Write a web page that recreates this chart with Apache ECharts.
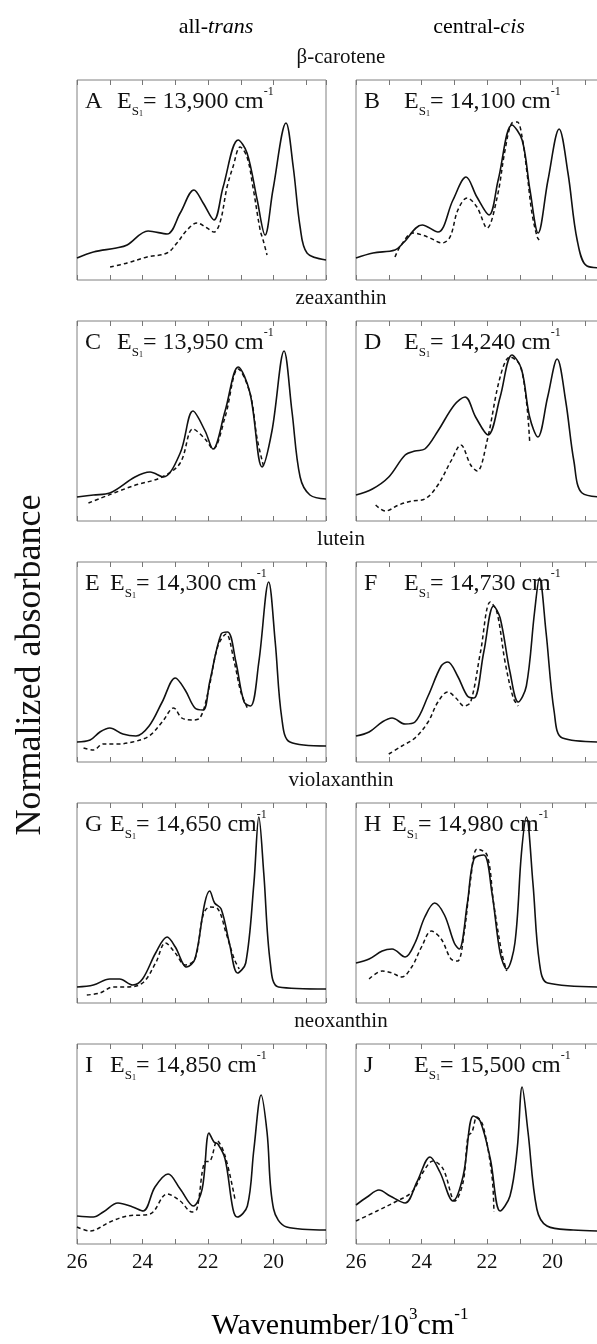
<!DOCTYPE html>
<html>
<head>
<meta charset="utf-8">
<script src="https://cdn.jsdelivr.net/npm/echarts@6/dist/echarts.min.js"></script>
<style>
  html, body { margin: 0; padding: 0; background: #fff; }
  #chart { width: 597px; height: 1344px; }
</style>
</head>
<body>
<div id="chart"></div>
<script>
// column / row titles
var colTitles = [['all-', 'trans'], ['central-', 'cis']];
var moleculeNames = ['\u03b2-carotene', 'zeaxanthin', 'lutein', 'violaxanthin', 'neoxanthin'];
var panelLetters = ['A', 'B', 'C', 'D', 'E', 'F', 'G', 'H', 'I', 'J'];
var esValues = ['13,900', '14,100', '13,950', '14,240', '14,300', '14,730', '14,650', '14,980', '14,850', '15,500'];
var tickLabels = [20, 22, 24, 26];

// spectra: [wavenumber (10^3 cm-1), normalized absorbance]
var aSolid = [[26,0.11],[25.5,0.14],[24.8,0.16],[24.47,0.175],[23.83,0.245],[23.25,0.23],[22.85,0.335],[22.43,0.45],[22.15,0.385],[21.82,0.30],[21.54,0.465],[21.08,0.70],[20.81,0.635],[20.5,0.40],[20.26,0.225],[20.02,0.45],[19.62,0.785],[19.4,0.565],[19.19,0.265],[18.98,0.135],[18.4,0.10]];
var aDashed = [[24.99,0.065],[24.47,0.085],[23.86,0.115],[23.25,0.135],[22.95,0.185],[22.64,0.25],[22.34,0.285],[22.03,0.26],[21.82,0.24],[21.63,0.29],[21.42,0.465],[21.24,0.565],[21.02,0.665],[20.81,0.615],[20.63,0.465],[20.41,0.25],[20.32,0.20],[20.2,0.125]];
var bSolid = [[26,0.11],[25.48,0.135],[24.81,0.15],[24.56,0.185],[23.98,0.275],[23.5,0.24],[23.04,0.40],[22.64,0.515],[22.31,0.415],[21.94,0.325],[21.66,0.50],[21.24,0.775],[20.93,0.70],[20.69,0.45],[20.44,0.235],[20.14,0.50],[19.8,0.755],[19.53,0.535],[19.25,0.20],[18.95,0.07],[18.4,0.06]];
var bDashed = [[24.81,0.115],[24.66,0.165],[24.26,0.235],[23.98,0.225],[23.74,0.21],[23.37,0.185],[23.13,0.215],[22.89,0.35],[22.61,0.41],[22.31,0.365],[22.0,0.26],[21.69,0.415],[21.45,0.65],[21.24,0.785],[21.08,0.79],[20.93,0.715],[20.78,0.535],[20.63,0.335],[20.47,0.215],[20.41,0.20]];
var cSolid = [[26,0.12],[25.5,0.13],[25.0,0.14],[24.23,0.22],[23.77,0.245],[23.37,0.22],[22.85,0.34],[22.46,0.55],[22.09,0.45],[21.85,0.36],[21.48,0.55],[21.08,0.77],[20.72,0.64],[20.35,0.27],[20.05,0.45],[19.68,0.85],[19.44,0.55],[19.19,0.22],[18.89,0.13],[18.4,0.11]];
var cDashed = [[25.65,0.09],[24.3,0.175],[23.4,0.22],[22.85,0.29],[22.46,0.46],[22.09,0.41],[21.85,0.36],[21.48,0.52],[21.08,0.76],[20.72,0.64],[20.5,0.41],[20.3,0.27]];
var dSolid = [[26,0.13],[25.5,0.16],[25.0,0.22],[24.5,0.33],[24.2,0.35],[23.9,0.36],[23.5,0.45],[23.0,0.58],[22.67,0.62],[22.35,0.52],[21.97,0.43],[21.6,0.62],[21.24,0.83],[20.95,0.76],[20.7,0.52],[20.45,0.42],[20.15,0.62],[19.86,0.81],[19.6,0.6],[19.35,0.3],[19.1,0.14],[18.4,0.12]];
var dDashed = [[25.4,0.08],[25.1,0.05],[24.7,0.08],[24.3,0.1],[23.9,0.11],[23.5,0.18],[23.1,0.3],[22.8,0.38],[22.5,0.28],[22.3,0.25],[22.0,0.4],[21.6,0.72],[21.3,0.82],[21.0,0.78],[20.8,0.6],[20.7,0.4]];
var eSolid = [[26,0.1],[25.6,0.11],[25.3,0.15],[25.0,0.17],[24.6,0.14],[24.2,0.13],[23.8,0.18],[23.4,0.3],[23.0,0.42],[22.7,0.36],[22.4,0.27],[22.15,0.26],[21.95,0.4],[21.6,0.64],[21.4,0.65],[21.15,0.5],[20.9,0.3],[20.7,0.28],[20.45,0.5],[20.15,0.9],[19.95,0.6],[19.75,0.22],[19.5,0.1],[18.4,0.08]];
var eDashed = [[25.8,0.07],[25.5,0.06],[25.2,0.09],[24.8,0.09],[24.3,0.1],[23.8,0.13],[23.4,0.2],[23.05,0.27],[22.8,0.22],[22.5,0.21],[22.25,0.22],[22.0,0.35],[21.7,0.58],[21.45,0.64],[21.2,0.5],[21.0,0.35],[20.8,0.27]];
var fSolid = [[26,0.13],[25.6,0.15],[25.2,0.2],[24.9,0.22],[24.5,0.19],[24.2,0.2],[23.8,0.33],[23.4,0.48],[23.2,0.5],[22.9,0.43],[22.6,0.33],[22.4,0.32],[22.1,0.55],[21.8,0.78],[21.6,0.72],[21.3,0.45],[21.05,0.3],[20.8,0.38],[20.55,0.75],[20.4,0.92],[20.2,0.65],[19.95,0.25],[19.7,0.12],[18.4,0.1]];
var fDashed = [[25.0,0.04],[24.6,0.08],[24.2,0.12],[23.8,0.2],[23.5,0.3],[23.2,0.35],[22.95,0.32],[22.7,0.28],[22.5,0.3],[22.2,0.55],[21.9,0.8],[21.7,0.75],[21.45,0.5],[21.2,0.32],[21.05,0.28]];
var gSolid = [[26,0.08],[25.5,0.09],[25.0,0.12],[24.7,0.12],[24.3,0.09],[24.0,0.12],[23.6,0.25],[23.25,0.33],[23.0,0.28],[22.65,0.18],[22.4,0.22],[22.1,0.5],[21.95,0.56],[21.8,0.5],[21.6,0.47],[21.35,0.3],[21.1,0.15],[20.85,0.2],[20.6,0.6],[20.45,0.93],[20.3,0.65],[20.1,0.2],[19.85,0.08],[18.4,0.07]];
var gDashed = [[25.7,0.04],[25.3,0.05],[24.9,0.08],[24.5,0.08],[24.0,0.1],[23.6,0.2],[23.3,0.3],[23.0,0.25],[22.7,0.19],[22.4,0.22],[22.15,0.44],[21.95,0.48],[21.7,0.47],[21.45,0.35],[21.2,0.22],[21.05,0.17]];
var hSolid = [[26,0.2],[25.6,0.22],[25.2,0.26],[24.9,0.27],[24.5,0.23],[24.2,0.3],[23.9,0.43],[23.6,0.5],[23.3,0.44],[23.0,0.3],[22.85,0.27],[22.6,0.5],[22.4,0.72],[22.1,0.74],[21.85,0.55],[21.6,0.25],[21.4,0.17],[21.15,0.3],[20.95,0.75],[20.8,0.93],[20.6,0.6],[20.4,0.2],[20.15,0.1],[18.4,0.08]];
var hDashed = [[25.6,0.12],[25.2,0.16],[24.9,0.15],[24.6,0.13],[24.3,0.18],[24.0,0.28],[23.7,0.36],[23.4,0.32],[23.1,0.22],[22.9,0.21],[22.7,0.35],[22.5,0.62],[22.3,0.77],[22.0,0.74],[21.8,0.5],[21.55,0.25],[21.4,0.16]];
var iSolid = [[26,0.14],[25.5,0.135],[25.2,0.16],[24.75,0.205],[24.3,0.185],[23.98,0.165],[23.62,0.285],[23.22,0.35],[22.85,0.275],[22.45,0.19],[22.18,0.275],[21.97,0.555],[21.82,0.51],[21.7,0.50],[21.48,0.425],[21.24,0.175],[21.11,0.135],[20.8,0.19],[20.6,0.475],[20.38,0.745],[20.2,0.56],[20.0,0.175],[19.6,0.085],[18.4,0.07]];
var iDashed = [[26,0.085],[25.6,0.065],[25.0,0.11],[24.47,0.14],[23.77,0.15],[23.25,0.25],[22.85,0.215],[22.49,0.16],[22.34,0.175],[22.1,0.41],[21.94,0.415],[21.72,0.515],[21.48,0.44],[21.18,0.225]];
var jSolid = [[26,0.195],[25.66,0.235],[25.3,0.27],[24.96,0.24],[24.5,0.205],[24.14,0.31],[23.74,0.435],[23.44,0.36],[23.04,0.215],[22.73,0.34],[22.42,0.64],[22.21,0.615],[21.9,0.425],[21.6,0.165],[21.3,0.24],[21.08,0.475],[20.93,0.785],[20.75,0.56],[20.48,0.175],[20.17,0.09],[19.37,0.07],[18.4,0.065]];
var jDashed = [[26,0.115],[25.36,0.165],[24.75,0.215],[24.29,0.26],[23.95,0.36],[23.65,0.415],[23.34,0.375],[22.98,0.215],[22.73,0.31],[22.58,0.54],[22.46,0.56],[22.31,0.635],[22.12,0.59],[21.85,0.34],[21.79,0.16]];

var solids = [aSolid, bSolid, cSolid, dSolid, eSolid, fSolid, gSolid, hSolid, iSolid, jSolid];
var dasheds = [aDashed, bDashed, cDashed, dDashed, eDashed, fDashed, gDashed, hDashed, iDashed, jDashed];

// layout
var colLeft = [77, 356];
var rowTop = [80, 321, 562, 803, 1044];
var panelW = 249, panelH = 200;
var eOffset = [40, 48, 40, 48, 33, 48, 33, 36, 33, 58];
var serif = 'Liberation Serif';
var ink = '#111';

// mode 0: ticks every 1 via splitNumber; mode 1: ticks every 2 + minor ticks; mode 2: ticks every 2
function buildOption(mode, freeGrid) {
  var grids = [], xAxes = [], yAxes = [], series = [], graphics = [];
  for (var i = 0; i < 10; i++) {
    var r = Math.floor(i / 2), c = i % 2;
    var left = colLeft[c], top = rowTop[r];
    var g = {
      left: left, top: top, width: panelW, height: panelH,
      show: true, borderColor: '#808080', borderWidth: 1
    };
    // right column runs past the page edge like the original figure
    if (freeGrid) g.outerBoundsMode = 'none';
    grids.push(g);
    ['bottom', 'top'].forEach(function (pos) {
      var ax = {
        gridIndex: i, type: 'value', min: 18.4, max: 26, inverse: true, position: pos,
        axisLine: { show: false },
        splitLine: { show: false },
        axisTick: { inside: true, length: 5, lineStyle: { color: '#777' } },
        axisLabel: {
          show: pos === 'bottom' && r === 4,
          fontFamily: serif, fontSize: 21, color: ink, margin: 8
        }
      };
      if (mode === 0) {
        ax.splitNumber = 8;
        ax.axisLabel.formatter = function (v) { return tickLabels.indexOf(v) >= 0 ? String(v) : ''; };
      }
      if (mode === 1) {
        ax.minorTick = { show: true, splitNumber: 2, length: 5, lineStyle: { color: '#777' } };
      }
      xAxes.push(ax);
    });
    yAxes.push({ gridIndex: i, type: 'value', min: 0, max: 1, show: false });

    series.push({
      type: 'line', xAxisIndex: 2 * i, yAxisIndex: i, data: solids[i],
      showSymbol: false, symbol: 'none', smooth: 0.35,
      lineStyle: { color: ink, width: 1.6 }
    });
    series.push({
      type: 'line', xAxisIndex: 2 * i, yAxisIndex: i, data: dasheds[i],
      showSymbol: false, symbol: 'none', smooth: 0.35,
      lineStyle: { color: ink, width: 1.5, type: [4, 3] }
    });

    graphics.push({
      type: 'text', x: left + 8, y: top + 22,
      style: { text: panelLetters[i], fontFamily: serif, fontSize: 24, fill: ink, verticalAlign: 'middle' }
    });
    graphics.push({
      type: 'text', x: left + eOffset[i], y: top + 6,
      style: {
        text: '{e|E}{s|S}{o|1}{e|= ' + esValues[i] + ' cm}{p|-1}',
        fill: ink, verticalAlign: 'top',
        rich: {
          e: { fontFamily: serif, fontSize: 24, lineHeight: 32, verticalAlign: 'middle', color: ink },
          s: { fontFamily: serif, fontSize: 13, verticalAlign: 'bottom', color: ink },
          o: { fontFamily: serif, fontSize: 8, verticalAlign: 'bottom', color: ink },
          p: { fontFamily: serif, fontSize: 12, verticalAlign: 'top', color: ink }
        }
      }
    });
  }

  var colCenters = [216, 479];
  colTitles.forEach(function (t, k) {
    graphics.push({
      type: 'text', x: colCenters[k], y: 27,
      style: {
        text: '{n|' + t[0] + '}{i|' + t[1] + '}',
        align: 'center', verticalAlign: 'middle',
        rich: {
          n: { fontFamily: serif, fontSize: 22, color: ink },
          i: { fontFamily: serif, fontSize: 22, fontStyle: 'italic', color: ink }
        }
      }
    });
  });
  moleculeNames.forEach(function (name, k) {
    graphics.push({
      type: 'text', x: 341, y: rowTop[k] - 23,
      style: { text: name, fontFamily: serif, fontSize: 21, fill: ink, align: 'center', verticalAlign: 'middle' }
    });
  });

  graphics.push({
    type: 'text', x: 31, y: 665, rotation: Math.PI / 2,
    style: { text: 'Normalized absorbance', fontFamily: serif, fontSize: 36, fill: ink, align: 'center', verticalAlign: 'middle' }
  });
  graphics.push({
    type: 'text', x: 340, y: 1306,
    style: {
      text: '{t|Wavenumber/10}{p|3}{t|cm}{p|-1}',
      align: 'center', verticalAlign: 'top',
      rich: {
        t: { fontFamily: serif, fontSize: 30, lineHeight: 40, verticalAlign: 'middle', color: ink },
        p: { fontFamily: serif, fontSize: 17, verticalAlign: 'top', color: ink }
      }
    }
  });

  return {
    animation: false,
    backgroundColor: '#fff',
    grid: grids,
    xAxis: xAxes,
    yAxis: yAxes,
    series: series,
    graphic: { elements: graphics }
  };
}

var el = document.getElementById('chart');
var attempts = [[0, true], [1, true], [2, true], [1, false], [2, false]];
for (var k = 0; k < attempts.length; k++) {
  var chart = echarts.init(el);
  try {
    chart.setOption(buildOption(attempts[k][0], attempts[k][1]));
    break;
  } catch (e) {
    console.error('attempt ' + k + ': ' + (e && e.stack ? e.stack.slice(0, 500) : e));
    chart.dispose();
  }
}
</script>
</body>
</html>
